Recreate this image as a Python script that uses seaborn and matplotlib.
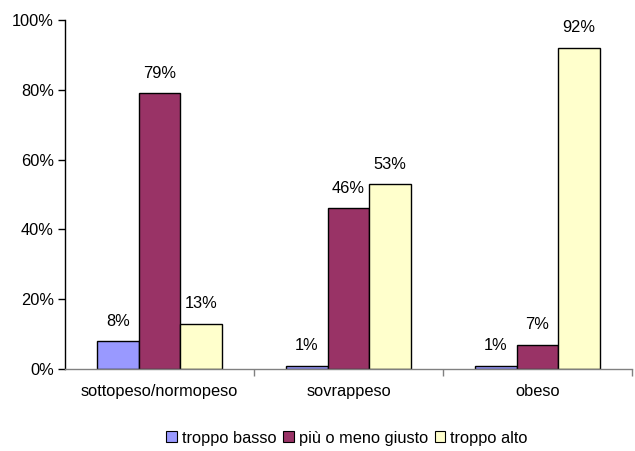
import matplotlib
matplotlib.use("Agg")
import matplotlib.pyplot as plt
import seaborn as sns
import pandas as pd
from matplotlib.patches import Patch
from matplotlib.ticker import FixedLocator, PercentFormatter

categories = ["sottopeso/normopeso", "sovrappeso", "obeso"]
series = ["troppo basso", "più o meno giusto", "troppo alto"]
troppo_basso = [8, 1, 1]
giusto = [79, 46, 7]
troppo_alto = [13, 53, 92]
colors = ["#9999FF", "#993366", "#FFFFCC"]

rows = []
for name, vals in zip(series, [troppo_basso, giusto, troppo_alto]):
    for cat, v in zip(categories, vals):
        rows.append({"categoria": cat, "serie": name, "valore": v})
df = pd.DataFrame(rows)

sns.set_theme(style="white")
plt.rcParams["font.family"] = ["Liberation Sans", "DejaVu Sans"]
plt.rcParams["text.color"] = "black"
plt.rcParams["xtick.labelcolor"] = "black"
plt.rcParams["ytick.labelcolor"] = "black"

FS = 11.8

fig = plt.figure(figsize=(6.35, 4.51), dpi=100)
ax = fig.add_axes([65 / 635, 1 - 369 / 451, 567 / 635, 349 / 451])

sns.barplot(data=df, x="categoria", y="valore", hue="serie", order=categories,
            hue_order=series, palette=colors, edgecolor="black", linewidth=1,
            width=0.66, saturation=1, legend=False, ax=ax)

for cont in ax.containers:
    ax.bar_label(cont, labels=[f"{int(round(b.get_height()))}%" for b in cont],
                 padding=9, fontsize=FS, color="black")

ax.set_ylim(0, 100)
ax.set_xlim(-0.5, 2.5)
ax.yaxis.set_major_formatter(PercentFormatter(decimals=0))
ax.set_yticks([0, 20, 40, 60, 80, 100])
ax.tick_params(axis="y", which="major", direction="out", length=5, width=1,
               color="black", left=True, labelsize=FS, pad=3, labelcolor="black")
ax.tick_params(axis="x", which="major", length=0, labelsize=FS, pad=11,
               labelcolor="black")
ax.xaxis.set_minor_locator(FixedLocator([0.5, 1.5, 2.5]))
ax.tick_params(axis="x", which="minor", direction="out", length=5, width=1,
               color="#808080", bottom=True)
ax.set_xlabel("")
ax.set_ylabel("")

for side in ["top", "right"]:
    ax.spines[side].set_visible(False)
ax.spines["left"].set_color("black")
ax.spines["left"].set_linewidth(1)
ax.spines["bottom"].set_color("#808080")
ax.spines["bottom"].set_linewidth(1)

handles = [Patch(facecolor=c, edgecolor="black", linewidth=0.8, label=s)
           for c, s in zip(colors, series)]
fig.legend(handles=handles, loc="center", bbox_to_anchor=(347 / 635, 1 - 438 / 451),
           ncol=3, frameon=False, fontsize=FS, handlelength=0.65, handleheight=0.65,
           handletextpad=0.3, columnspacing=0.4, borderaxespad=0, labelcolor="black")

fig.savefig("out.png", dpi=100)
